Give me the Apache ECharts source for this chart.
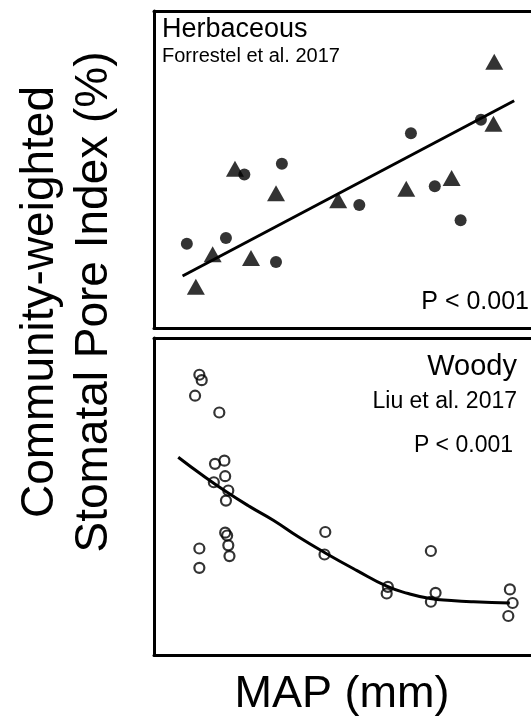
<!DOCTYPE html>
<html>
<head>
<meta charset="utf-8">
<script src="https://cdn.jsdelivr.net/npm/echarts@6/dist/echarts.min.js"></script>
<style>
html,body{margin:0;padding:0;background:#fff;}
#chart{width:531px;height:727px;}
</style>
</head>
<body>
<div id="chart"></div>
<script>
// Herbaceous panel (Forrestel et al. 2017): [MAP, pore index] in relative units
var herbCircles = [[8.4,26.6],[18.4,28.4],[23.1,48.4],[32.7,51.8],[31.2,20.8],[52.5,38.8],[65.7,61.4],[71.8,44.7],[78.4,34.0],[83.6,65.7]];
var herbTriangles = [[10.7,13.0],[15.0,23.3],[20.7,50.2],[24.8,22.1],[31.2,42.5],[47.1,40.3],[64.5,43.9],[76.1,47.3],[86.8,64.4],[87.0,84.0]];
var herbFit = [[7.3,16.4],[92.1,71.7]];
// Woody panel (Liu et al. 2017)
var woodyCircles = [[11.6,88.4],[12.2,86.7],[10.5,81.8],[16.7,76.5],[15.6,60.3],[18.0,61.3],[18.2,56.4],[15.3,54.5],[19.0,51.9],[18.4,48.7],[18.2,38.6],[18.7,37.7],[19.0,34.6],[19.3,31.2],[11.6,33.6],[11.6,27.5],[43.8,38.8],[43.6,31.7],[59.8,21.5],[59.5,19.4],[70.8,32.8],[72.0,19.6],[70.8,16.8],[91.0,20.7],[91.7,16.4],[90.6,12.3]];
var woodyFit = [[6.2,62.4],[12.4,56.7],[18.6,51.4],[24.5,46.8],[30.5,42.5],[37.0,37.2],[43.8,32.2],[51.8,26.7],[59.5,21.7],[65.0,19.4],[70.6,17.8],[76.0,17.2],[81.7,16.8],[91.0,16.4]];

var FONT = '"Liberation Sans", Arial, sans-serif';
var XMAX = 96.4;
var chart = echarts.init(document.getElementById('chart'), null, {renderer:'canvas'});

function axX(i, pos){return {type:'value',gridIndex:i,position:pos,min:0,max:XMAX,
  axisLine:{show:true,onZero:false,lineStyle:{color:'#000',width:3}},axisTick:{show:false},axisLabel:{show:false},splitLine:{show:false}};}
function axY(i){return {type:'value',gridIndex:i,min:0,max:100,
  axisLine:{show:true,onZero:false,lineStyle:{color:'#000',width:3}},axisTick:{show:false},axisLabel:{show:false},splitLine:{show:false}};}

chart.setOption({
  animation:false,
  backgroundColor:'#fff',
  grid:[
    {left:154,top:11,right:0,height:317},
    {left:154,top:338,right:0,height:317}
  ],
  xAxis:[axX(0,'bottom'),axX(0,'top'),axX(1,'bottom'),axX(1,'top')],
  yAxis:[axY(0),axY(1)],
  series:[
    {type:'line',xAxisIndex:0,yAxisIndex:0,data:herbFit,showSymbol:false,lineStyle:{color:'#000',width:3},z:2},
    {type:'scatter',xAxisIndex:0,yAxisIndex:0,data:herbCircles,symbol:'circle',symbolSize:12,itemStyle:{color:'#000'},z:3},
    {type:'scatter',xAxisIndex:0,yAxisIndex:0,data:herbTriangles,symbol:'triangle',symbolSize:[18,16],itemStyle:{color:'#000'},z:3},
    {type:'line',xAxisIndex:2,yAxisIndex:1,data:woodyFit,smooth:true,showSymbol:false,lineStyle:{color:'#000',width:3},z:2},
    {type:'scatter',xAxisIndex:2,yAxisIndex:1,data:woodyCircles,symbol:'circle',symbolSize:10,itemStyle:{color:'rgba(255,255,255,0)',borderColor:'#000',borderWidth:2.2},z:3}
  ],
  graphic:[
    {type:'text',x:162,y:16,style:{text:'Herbaceous',font:'27px '+FONT,fill:'#000',textAlign:'left',textVerticalAlign:'top'}},
    {type:'text',x:162,y:46,style:{text:'Forrestel et al. 2017',font:'20px '+FONT,fill:'#000',textAlign:'left',textVerticalAlign:'top'}},
    {type:'text',x:529,y:290,style:{text:'P < 0.001',font:'25px '+FONT,fill:'#000',textAlign:'right',textVerticalAlign:'top'}},
    {type:'text',x:517,y:352,style:{text:'Woody',font:'29px '+FONT,fill:'#000',textAlign:'right',textVerticalAlign:'top'}},
    {type:'text',x:517,y:390,style:{text:'Liu et al. 2017',font:'23px '+FONT,fill:'#000',textAlign:'right',textVerticalAlign:'top'}},
    {type:'text',x:513,y:434,style:{text:'P < 0.001',font:'23px '+FONT,fill:'#000',textAlign:'right',textVerticalAlign:'top'}},
    {type:'text',x:342,y:695,style:{text:'MAP (mm)',font:'45px '+FONT,fill:'#000',textAlign:'center',textVerticalAlign:'middle'}},
    {type:'text',x:40,y:302,rotation:Math.PI/2,style:{text:'Community-weighted',font:'46px '+FONT,fill:'#000',textAlign:'center',textVerticalAlign:'middle'}},
    {type:'text',x:94,y:302,rotation:Math.PI/2,style:{text:'Stomatal Pore Index (%)',font:'46px '+FONT,fill:'#000',textAlign:'center',textVerticalAlign:'middle'}}
  ]
});
</script>
</body>
</html>
